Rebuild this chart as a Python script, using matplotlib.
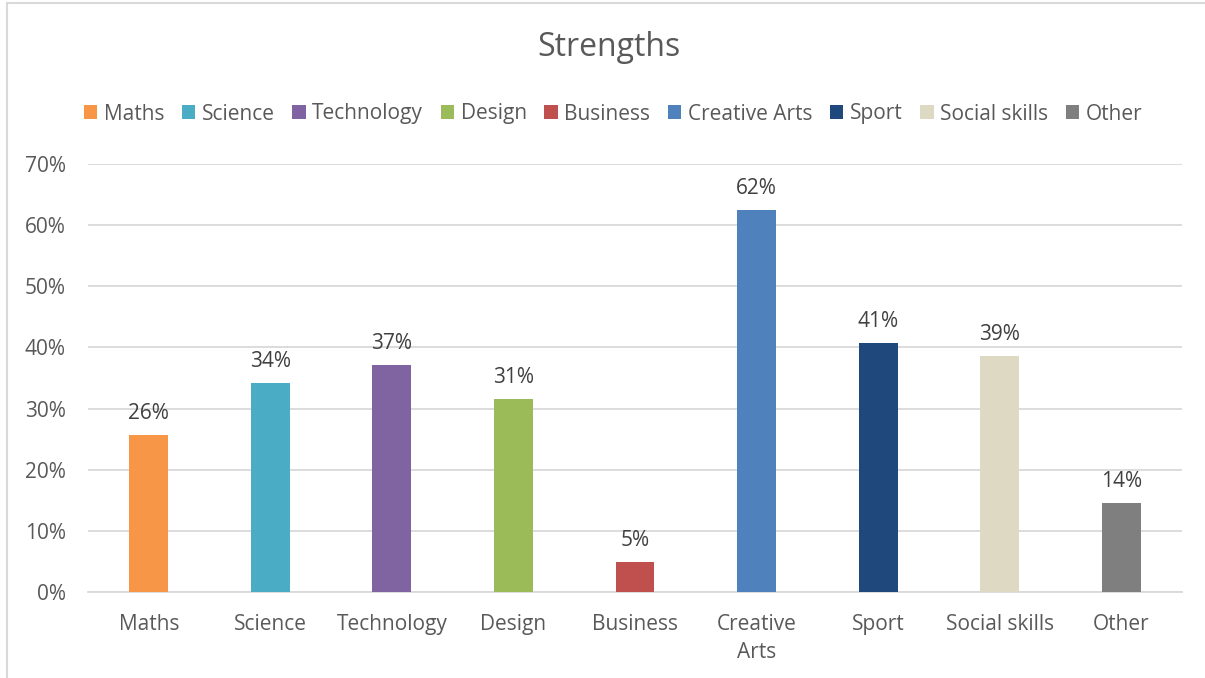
import matplotlib
matplotlib.use("Agg")
import matplotlib.pyplot as plt
from matplotlib.patches import Rectangle, Patch
from matplotlib.ticker import FuncFormatter, MultipleLocator

categories = ["Maths", "Science", "Technology", "Design", "Business",
              "Creative Arts", "Sport", "Social skills", "Other"]
tick_labels = ["Maths", "Science", "Technology", "Design", "Business",
               "Creative\nArts", "Sport", "Social skills", "Other"]
values = [0.257, 0.342, 0.371, 0.316, 0.049, 0.625, 0.407, 0.386, 0.145]
value_labels = ["26%", "34%", "37%", "31%", "5%", "62%", "41%", "39%", "14%"]
colors = ["#F79646", "#4BACC6", "#8064A2", "#9BBB59", "#C0504D",
          "#4F81BD", "#1F497D", "#DDD9C3", "#7F7F7F"]

plt.rcParams["font.family"] = ["Open Sans", "DejaVu Sans"]
text_color = "#595959"
grid_color = "#D9D9D9"
fs = 15

W, H = 1205, 678
fig = plt.figure(figsize=(W / 100, H / 100), dpi=100)
fig.patch.set_facecolor("white")

# chart frame
fig.patches.append(Rectangle((7 / W, -0.05), 1.2, 1 - 3 / H + 0.05,
                             transform=fig.transFigure, fill=False,
                             edgecolor=grid_color, lw=1.5, clip_on=False))

ax = fig.add_axes([88 / W, 1 - 592 / H, (1182 - 88) / W, (592 - 164) / H])
x = list(range(len(categories)))
bars = ax.bar(x, values, width=0.32, color=colors, zorder=3)

for xi, v, lab in zip(x, values, value_labels):
    ax.annotate(lab, (xi, v), xytext=(0, 8), textcoords="offset points",
                ha="center", va="bottom", fontsize=fs, color="#404040")

ax.set_xlim(-0.5, len(categories) - 0.5)
ax.set_ylim(0, 0.7)
ax.yaxis.set_major_locator(MultipleLocator(0.1))
ax.yaxis.set_major_formatter(FuncFormatter(lambda v, p: f"{v * 100:.0f}%"))
ax.grid(axis="y", color=grid_color, lw=1.3, zorder=0)
ax.set_axisbelow(True)
for s in ["top", "right", "left"]:
    ax.spines[s].set_visible(False)
ax.spines["bottom"].set_color(grid_color)
ax.spines["bottom"].set_linewidth(1.3)
ax.set_xticks(x)
ax.set_xticklabels(tick_labels, va="top", linespacing=1.45)
ax.tick_params(axis="both", length=0, labelsize=fs, labelcolor=text_color)
ax.tick_params(axis="x", pad=16)
ax.tick_params(axis="y", pad=16)

fig.text(609 / W, 1 - 48 / H, "Strengths", ha="center", va="center",
         fontsize=23, color=text_color)

handles = [Patch(facecolor=c, edgecolor="none") for c in colors]
fig.legend(handles, categories, loc="center", bbox_to_anchor=(613 / W, 1 - 114 / H),
           ncol=len(categories), frameon=False, fontsize=fs,
           labelcolor=text_color, handlelength=0.65, handleheight=0.65,
           handletextpad=0.3, columnspacing=0.85)

fig.savefig("out.png", dpi=100, facecolor="white")
